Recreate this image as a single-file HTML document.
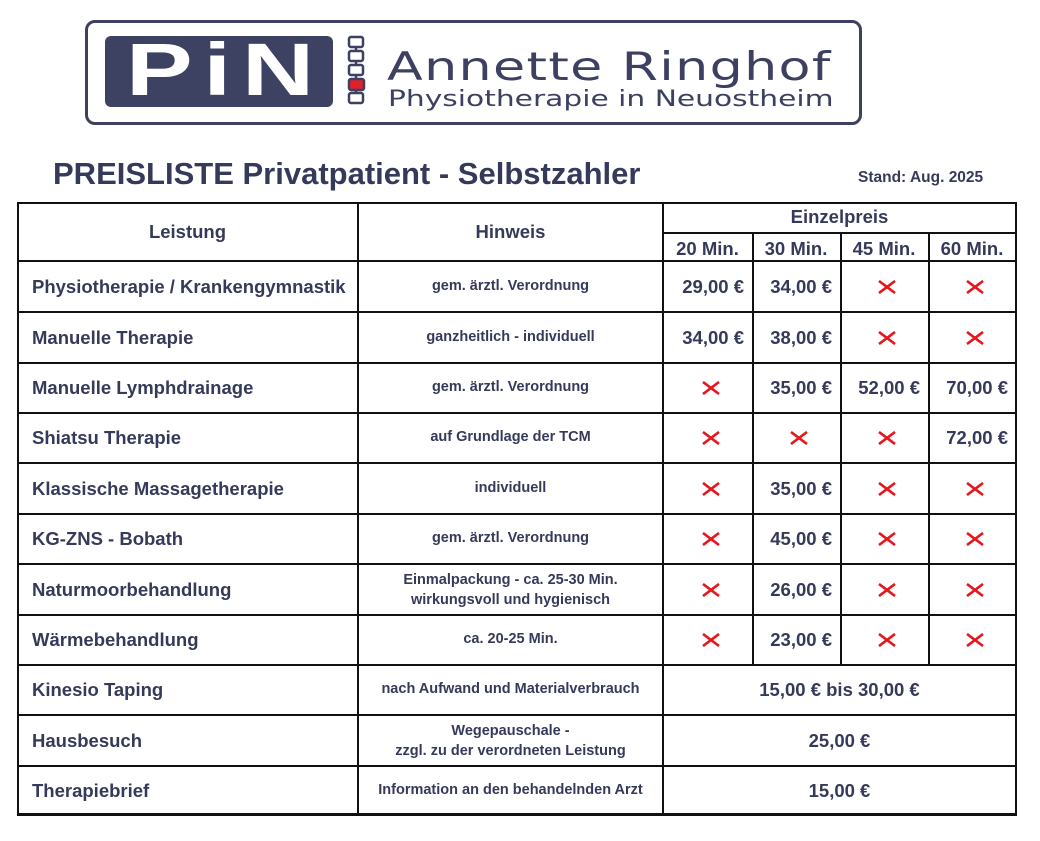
<!DOCTYPE html>
<html><head><meta charset="utf-8"><style>
body{margin:0;width:1040px;height:841px;background:#fff;position:relative;overflow:hidden;font-family:"Liberation Sans",Arial,sans-serif;color:#363a5a;}
.a{position:absolute;}
.l{position:absolute;background:#111;}
.t{position:absolute;font-weight:bold;white-space:nowrap;}
</style></head><body>
<div class="a" style="left:85px;top:20px;width:771px;height:99px;border:3px solid #3d4060;border-radius:10px;"></div>
<div class="a" style="left:105px;top:36px;width:228px;height:71px;background:#3e4262;border-radius:6px;"></div>
<div class="t" style="left:126px;top:30px;font-size:74px;color:#fff;letter-spacing:8px;line-height:80px;transform:scaleX(1.35);transform-origin:0 0;">PiN</div>
<svg class="a" style="left:344px;top:34px" width="30" height="74">
<g fill="#fff" stroke="#3d4060" stroke-width="2.5">
<rect x="5" y="3" width="14" height="10" rx="2"/><rect x="5" y="17" width="14" height="10" rx="2"/><rect x="5" y="31" width="14" height="10" rx="2"/><rect x="5" y="59" width="14" height="10" rx="2"/>
</g><rect x="5" y="45" width="15" height="11" rx="2" fill="#e0202a" stroke="#3d4060" stroke-width="2.5"/>
<g stroke="#3d4060" stroke-width="2.5"><line x1="12" y1="13" x2="12" y2="17"/><line x1="12" y1="27" x2="12" y2="31"/><line x1="12" y1="41" x2="12" y2="45"/><line x1="12" y1="56" x2="12" y2="59"/></g>
</svg>
<div class="a" style="left:387px;top:46px;font-size:39px;color:#3d4060;line-height:44px;letter-spacing:1px;font-family:'DejaVu Sans',sans-serif;transform:scaleX(1.34);transform-origin:0 0;">Annette Ringhof</div>
<div class="a" style="left:388px;top:87px;font-size:22px;color:#3d4060;line-height:26px;font-family:'DejaVu Sans',sans-serif;transform:scaleX(1.35);transform-origin:0 0;">Physiotherapie in Neuostheim</div>
<div class="t" style="left:53px;top:156px;font-size:31px;line-height:36px;">PREISLISTE Privatpatient - Selbstzahler</div>
<div class="t" style="left:858px;top:169px;font-size:15.5px;">Stand: Aug. 2025</div>
<div id="tb"></div>
<script>
var h='';
function L(x,y,w,hh){h+='<div class="l" style="left:'+x+'px;top:'+y+'px;width:'+w+'px;height:'+hh+'px"></div>';}
function T(x,y,w,txt,fs,al){h+='<div class="t" style="left:'+x+'px;top:'+(y)+'px;width:'+w+'px;font-size:'+fs+'px;text-align:'+al+';line-height:'+(fs+3)+'px">'+txt+'</div>';}
function X(cx,cy){h+='<svg class="a" style="left:'+(cx-9)+'px;top:'+(cy-7)+'px" width="18" height="14"><g stroke="#e8141c" stroke-width="2.6"><line x1="1" y1="1" x2="17" y2="13"/><line x1="17" y1="1" x2="1" y2="13"/></g></svg>';}
var rows=[261,311,362,412,462,513,563,614,664,714,765,815];
var cols=[663,752,840,928,1016];
L(17,202,1000,2);L(17,813,1000,3);L(17,202,2,613);L(1015,202,2,613);
L(357,202,2,613);L(662,202,2,613);
L(663,232,353,1.5);
L(17,260,1000,2);
for(var i=1;i<rows.length-1;i++)L(17,rows[i],1000,1.5);
for(var c=1;c<4;c++)L(cols[c],232,1.5,432);
T(17,221,341,'Leistung',18.5,'center');T(358,221,305,'Hinweis',18.5,'center');
T(663,206,353,'Einzelpreis',18.5,'center');
var mins=['20 Min.','30 Min.','45 Min.','60 Min.'];
for(c=0;c<4;c++)T(cols[c],238,cols[c+1]-cols[c],mins[c],18.5,'center');
var data=[
['Physiotherapie / Krankengymnastik','gem. ärztl. Verordnung',['29,00 €','34,00 €',0,0]],
['Manuelle Therapie','ganzheitlich - individuell',['34,00 €','38,00 €',0,0]],
['Manuelle Lymphdrainage','gem. ärztl. Verordnung',[0,'35,00 €','52,00 €','70,00 €']],
['Shiatsu Therapie','auf Grundlage der TCM',[0,0,0,'72,00 €']],
['Klassische Massagetherapie','individuell',[0,'35,00 €',0,0]],
['KG-ZNS - Bobath','gem. ärztl. Verordnung',[0,'45,00 €',0,0]],
['Naturmoorbehandlung','Einmalpackung - ca. 25-30 Min.<br>wirkungsvoll und hygienisch',[0,'26,00 €',0,0]],
['Wärmebehandlung','ca. 20-25 Min.',[0,'23,00 €',0,0]],
['Kinesio Taping','nach Aufwand und Materialverbrauch','15,00 € bis 30,00 €'],
['Hausbesuch','Wegepauschale -<br>zzgl. zu der verordneten Leistung','25,00 €'],
['Therapiebrief','Information an den behandelnden Arzt','15,00 €']];
for(i=0;i<data.length;i++){
 var y0=rows[i],y1=rows[i+1],cy=(y0+y1)/2;
 var d=data[i];
 T(32,cy-10,330,d[0],18.5,'left');
 var two=d[1].indexOf('<br>')>=0;
 h+='<div class="t" style="left:358px;top:'+(two?cy-19:cy-10)+'px;width:305px;font-size:14.5px;text-align:center;line-height:20px">'+d[1]+'</div>';
 if(typeof d[2]=='string'){T(663,cy-10,353,d[2],18.5,'center');}
 else for(c=0;c<4;c++){
  if(d[2][c])T(cols[c],cy-10,cols[c+1]-cols[c]-8,d[2][c],18.5,'right');
  else X((cols[c]+cols[c+1])/2+3,cy+1);
 }
}
document.getElementById('tb').innerHTML=h;
</script>
</body></html>
